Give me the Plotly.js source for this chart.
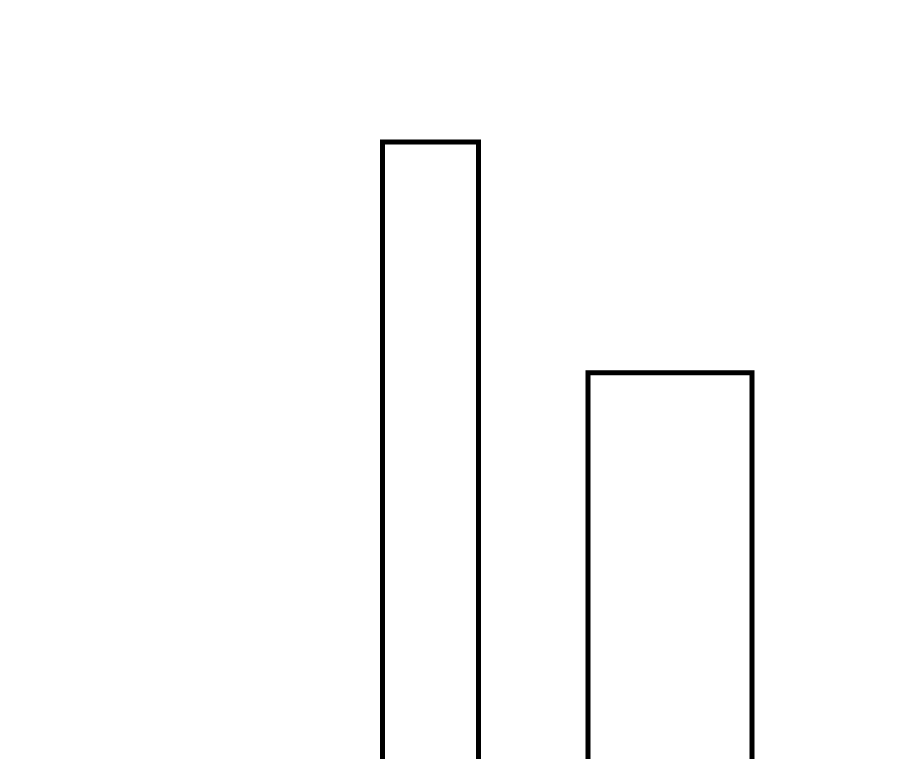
<!DOCTYPE html>
<html>
<head>
<meta charset="utf-8">
<script src="https://cdn.plot.ly/plotly-3.0.1.min.js"></script>
<style>
  html, body { margin: 0; padding: 0; background: #fff; }
  #chart { width: 900px; height: 759px; }
</style>
</head>
<body>
<div id="chart"></div>
<script>
// bar values, where they sit and how wide they are (axis units)
const positions = [4.305, 6.70];
const widths = [0.96, 1.64];
const values = [100, 69.6];

Plotly.newPlot('chart', [{
  type: 'bar',
  x: positions,
  y: values,
  width: widths,
  base: 0,
  marker: {
    color: 'rgba(255,255,255,0)',
    line: { color: '#000', width: 5 }
  },
  hoverinfo: 'none'
}], {
  width: 900,
  height: 759,
  margin: { l: 0, r: 0, t: 0, b: 0 },
  paper_bgcolor: '#fff',
  plot_bgcolor: '#fff',
  showlegend: false,
  xaxis: { range: [0, 9], visible: false, fixedrange: true },
  yaxis: { range: [18.7, 118.7], visible: false, fixedrange: true }
}, { displayModeBar: false, staticPlot: true });
</script>
</body>
</html>
